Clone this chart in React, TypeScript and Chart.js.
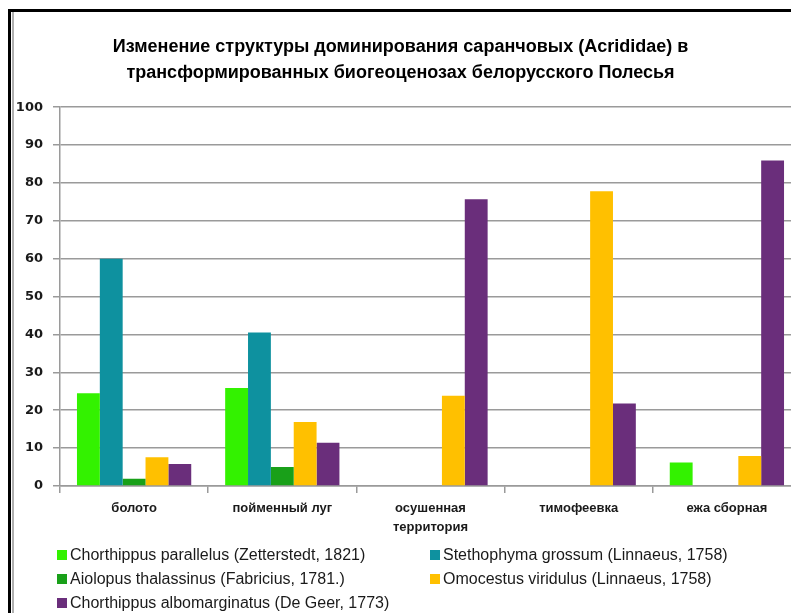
import React, { useEffect, useRef } from "react";
import { Chart, registerables } from "chart.js";

Chart.register(...registerables);

const titleLines = [
  "Изменение структуры доминирования саранчовых (Acrididae) в",
  "трансформированных биогеоценозах белорусского Полесья",
];
const categories: (string | string[])[] = [
  "болото",
  "пойменный луг",
  ["осушенная", "территория"],
  "тимофеевка",
  "ежа сборная",
];
const seriesNames = [
  "Chorthippus parallelus (Zetterstedt, 1821)",
  "Stethophyma grossum (Linnaeus, 1758)",
  "Aiolopus thalassinus  (Fabricius, 1781.)",
  "Omocestus viridulus (Linnaeus, 1758)",
  "Chorthippus albomarginatus  (De Geer, 1773)",
];
const seriesColors = ["#33F200", "#0E919F", "#19A019", "#FFC000", "#6A2E7B"];
const parallelus = [24.5, 25.9, null, null, 6.2];
const grossum = [60, 40.5, null, null, null];
const thalassinus = [1.9, 5, null, null, null];
const viridulus = [7.6, 16.9, 23.8, 77.8, 7.9];
const albomarginatus = [5.8, 11.4, 75.7, 21.8, 85.9];
const seriesValues = [parallelus, grossum, thalassinus, viridulus, albomarginatus];
const yTicks = [0, 10, 20, 30, 40, 50, 60, 70, 80, 90, 100];

// legend order: row-major in two columns
const legendOrder = [0, 1, 2, 3, 4];

export default function App() {
  const ref = useRef<HTMLCanvasElement>(null);
  useEffect(() => {
    if (!ref.current) return;
    const chart = new Chart(ref.current, {
      type: "bar",
      data: {
        labels: categories,
        datasets: seriesValues.map((v, i) => ({
          label: seriesNames[i],
          data: v,
          backgroundColor: seriesColors[i],
          borderWidth: 0,
          barPercentage: 1,
          categoryPercentage: 0.771,
        })),
      },
      options: {
        animation: false,
        responsive: false,
        devicePixelRatio: 1,
        layout: { padding: { left: 0, right: 4, top: 0, bottom: 0 } },
        plugins: {
          legend: { display: false },
          tooltip: { enabled: false },
          title: {
            display: true,
            text: titleLines,
            color: "#000000",
            font: { family: "Liberation Sans", size: 18, weight: "bold", lineHeight: 1.45 },
            padding: { top: 34, bottom: 21 },
          },
        },
        scales: {
          x: {
            grid: {
              drawOnChartArea: false,
              drawTicks: true,
              tickLength: 7,
              offset: true,
              color: "#9a9a9a",
              lineWidth: 1.5,
            },
            border: { color: "#9a9a9a", width: 1.5 },
            ticks: {
              color: "#1a1a1a",
              font: { family: "Liberation Sans", size: 13, weight: "bold", lineHeight: 1.45 },
              padding: 6,
              maxRotation: 0,
              autoSkip: false,
            },
            afterFit: (s: any) => {
              s.height = 127;
            },
          },
          y: {
            min: 0,
            max: 100,
            afterBuildTicks: (s: any) => {
              s.ticks = yTicks.map((v) => ({ value: v }));
            },
            grid: { color: "#9a9a9a", lineWidth: 1.5, tickLength: 7 },
            border: { color: "#9a9a9a", width: 1.5 },
            ticks: {
              color: "#1a1a1a",
              font: { family: "DejaVu Sans", size: 13, weight: "bold" },
              padding: 10,
            },
            afterFit: (s: any) => {
              s.width = 60;
            },
          },
        },
      },
    });
    return () => chart.destroy();
  }, []);

  const legendRow = (idx: number, left: number, top: number) => (
    <div
      key={idx}
      style={{
        position: "absolute",
        left,
        top,
        display: "flex",
        alignItems: "center",
        whiteSpace: "nowrap",
        fontFamily: "Liberation Sans",
        fontSize: 16,
        color: "#1a1a1a",
        lineHeight: "20px",
      }}
    >
      <span
        style={{
          display: "inline-block",
          width: 10,
          height: 10,
          background: seriesColors[idx],
          marginRight: 3,
        }}
      />
      {seriesNames[idx]}
    </div>
  );

  const colX = [57, 430];
  const rowY = [545, 569, 593];

  return (
    <div
      style={{
        position: "fixed",
        left: 0,
        top: 0,
        width: 791,
        height: 613,
        overflow: "hidden",
        background: "#ffffff",
      }}
    >
      <div
        style={{
          position: "absolute",
          left: 8,
          top: 9,
          width: 820,
          height: 700,
          borderTop: "3px solid #000",
          borderLeft: "3px solid #000",
        }}
      />
      <div
        style={{
          position: "absolute",
          left: 12,
          top: 12,
          width: 1.5,
          height: 700,
          background: "#b0b0b0",
        }}
      />
      <canvas
        ref={ref}
        width={805}
        height={613}
        style={{ position: "absolute", left: 0, top: 0 }}
      />
      {legendOrder.map((idx, k) =>
        legendRow(idx, colX[k % 2], rowY[Math.floor(k / 2)])
      )}
    </div>
  );
}
